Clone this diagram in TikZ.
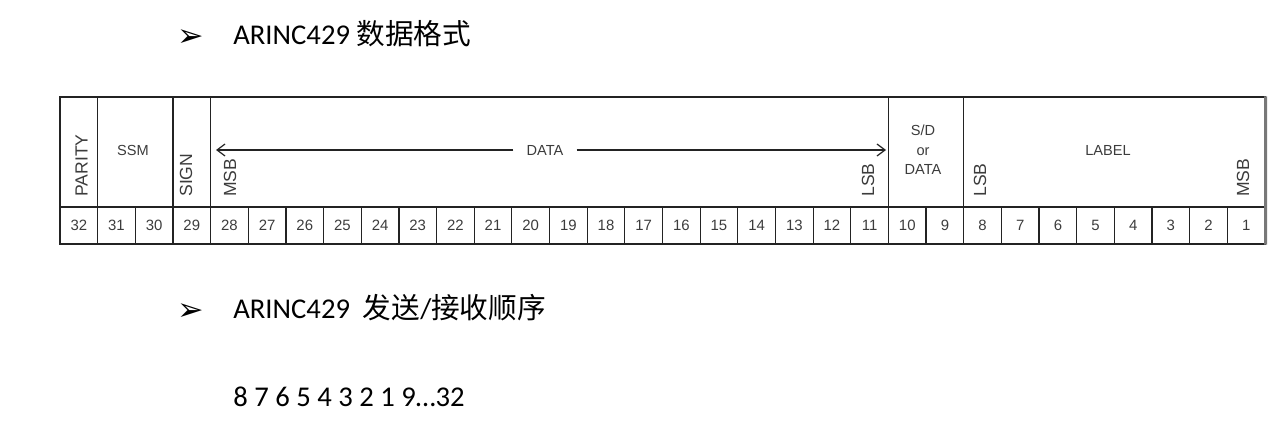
\documentclass[tikz,border=0pt]{standalone}
\usepackage{fontspec}
\setmainfont{Carlito}
\newfontfamily\cjk{Noto Sans CJK SC}
\newfontfamily\tblfont{Liberation Sans}
\newfontfamily\symfont{DejaVu Sans Bold}
\usetikzlibrary{arrows.meta, positioning}
\definecolor{arincline}{RGB}{35,35,35}
\definecolor{arinctext}{RGB}{60,60,60}
\definecolor{arincedge}{RGB}{120,120,120}

\begin{document}
\begin{tikzpicture}[
  bit/.style={draw=arincline, line width=0.7pt, minimum width=0.7531cm, minimum height=0.74cm, inner sep=0pt, font=\tblfont\fontsize{8.5}{10}\selectfont, text=arinctext},
  field/.style={draw=arincline, line width=0.7pt, minimum height=2.2cm, inner sep=0pt},
  vlbl/.style={rotate=90, anchor=west, inner sep=0pt, font=\tblfont\fontsize{10}{12}\selectfont, text=arinctext},
  hlbl/.style={inner sep=0pt, font=\tblfont\fontsize{8.3}{11}\selectfont, text=arinctext, align=center},
  head/.style={anchor=base west, inner sep=0pt, font=\fontsize{16.3}{19}\selectfont},
  bullet/.style={anchor=base west, inner sep=0pt, font=\symfont\fontsize{18}{20}\selectfont}]
  \useasboundingbox (0,0) rectangle (25.72,8.74);
  % headings
  \node[bullet] (arr1) at (3.55,7.8) {➢};
  \node[head] (h1) at (4.66,7.84) {ARINC429 {\cjk 数据格式}};
  % upper row: fields
  \node[field, minimum width=0.7531cm] (parityf) at (1.5766,5.7) {};
  \node[field, minimum width=1.5063cm] (ssmf) at (2.7063,5.7) {};
  \node[field, minimum width=0.7531cm] (signf) at (3.8359,5.7) {};
  \node[field, minimum width=13.5563cm] (dataf) at (10.9906,5.7) {};
  \node[field, minimum width=1.5063cm] (sdf) at (18.5219,5.7) {};
  \node[field, minimum width=6.025cm] (labelf) at (22.2875,5.7) {};
  % lower row: bit numbers
  \foreach \i in {1,...,32}{
    \pgfmathtruncatemacro{\bitno}{33-\i}
    \node[bit] (bit\bitno) at ({1.2+(\i-0.5)*0.753125},4.23) {\bitno};
  }
  \draw[arincedge, line width=1.6pt] (labelf.north east) -- (bit1.south east);
  % field labels
  \node[vlbl] (paritylbl) at (1.63,4.8) {PARITY};
  \node[hlbl] (ssmlbl) at (2.66,5.74) {SSM};
  \node[vlbl] (signlbl) at (3.72,4.8) {SIGN};
  \node[vlbl] (msbdata) at (4.6,4.8) {MSB};
  \node[hlbl, inner xsep=0.26cm] (datalbl) at (10.9,5.74) {DATA};
  \node[vlbl] (lsbdata) at (17.36,4.8) {LSB};
  \node[hlbl] (sdlbl) at (18.46,5.74) {S/D\\or\\DATA};
  \node[hlbl] (labellbl) at (22.16,5.74) {LABEL};
  \node[vlbl] (lsblabel) at (19.6,4.8) {LSB};
  \node[vlbl] (msblabel) at (24.86,4.8) {MSB};
  \coordinate (msbend) at (4.32,5.74);
  \coordinate (lsbend) at (17.72,5.74);
  \draw[-{Straight Barb[length=1.6mm, width=2.4mm]}, arincline, line width=0.7pt] (datalbl.west) -- (msbend);
  \draw[-{Straight Barb[length=1.6mm, width=2.4mm]}, arincline, line width=0.7pt] (datalbl.east) -- (lsbend);
  % transmit order
  \node[bullet] (arr2) at (3.55,2.34) {➢};
  \node[head] (h2) at (4.66,2.38) {ARINC429\ \ {\cjk 发送}/{\cjk 接收顺序}};
  \node[head] (seq) at (4.66,0.62) {8 7 6 5 4 3 2 1 9…32};
\end{tikzpicture}
\end{document}
